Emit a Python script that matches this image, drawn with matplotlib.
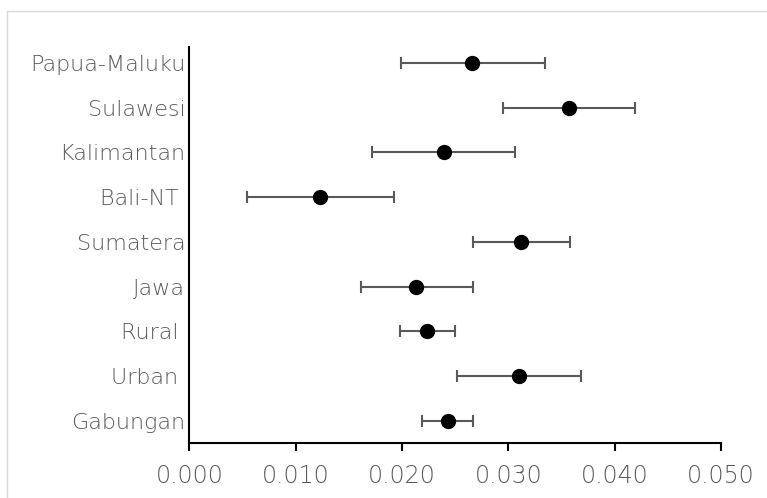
import matplotlib
matplotlib.use("Agg")
import matplotlib.pyplot as plt
from matplotlib.ticker import FormatStrFormatter, MultipleLocator
from matplotlib.patches import Rectangle

# categories bottom -> top
regions = ["Gabungan", "Urban ", "Rural ", "Jawa", "Sumatera", "Bali-NT ",
           "Kalimantan", "Sulawesi", "Papua-Maluku"]
estimate = [0.0243, 0.0310, 0.0223, 0.0213, 0.0312, 0.0123, 0.0239, 0.0357, 0.0266]
lower = [0.0219, 0.0252, 0.0198, 0.0161, 0.0267, 0.0054, 0.0172, 0.0295, 0.0199]
upper = [0.0267, 0.0368, 0.0250, 0.0267, 0.0358, 0.0192, 0.0306, 0.0419, 0.0334]

plt.rcParams['font.family'] = ['DejaVu Sans']

fig = plt.figure(figsize=(7.67, 4.98), dpi=100)
ax = fig.add_axes([0.247, 0.1104, 0.693, 0.7952])

# light chart border (Excel style)
fig.patches.append(Rectangle((7 / 767, -0.1), 1.2, (487 + 50) / 498,
                             transform=fig.transFigure, fill=False,
                             edgecolor='#d9d9d9', linewidth=1.0))

ypos = list(range(len(regions)))
xerr = [[e - l for e, l in zip(estimate, lower)],
        [u - e for e, u in zip(estimate, upper)]]
ax.errorbar(estimate, ypos, xerr=xerr, fmt='o', color='black', markersize=10,
            ecolor='#595959', elinewidth=1.5, capsize=4.3, capthick=1.5, zorder=3)

ax.set_xlim(0, 0.05)
ax.set_ylim(-0.5, 8.36)
ax.xaxis.set_major_locator(MultipleLocator(0.01))
ax.xaxis.set_major_formatter(FormatStrFormatter('%.3f'))
ax.set_yticks(ypos)
ax.set_yticklabels(regions)

for s in ['top', 'right']:
    ax.spines[s].set_visible(False)
for s in ['left', 'bottom']:
    ax.spines[s].set_linewidth(1.5)
    ax.spines[s].set_color('black')

ax.tick_params(axis='x', direction='out', length=6, width=1.5, pad=9,
               labelsize=17, labelcolor='#595959')
ax.tick_params(axis='y', length=0, pad=3, labelsize=16, labelcolor='#595959')
for lab in ax.get_xticklabels() + ax.get_yticklabels():
    lab.set_fontweight('light')

fig.savefig("out.png", dpi=100)
